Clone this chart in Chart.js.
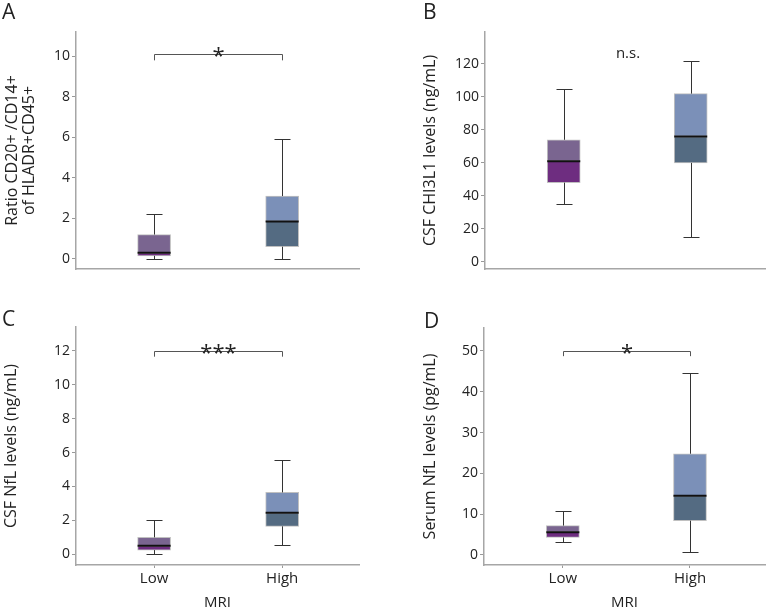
<!DOCTYPE html>
<html>
<head>
<meta charset="utf-8">
<script src="https://cdn.jsdelivr.net/npm/chart.js@4.4.0/dist/chart.umd.min.js"></script>
<style>
    body { margin: 0; background: #fff; width: 771px; height: 610px; position: relative; overflow: hidden; }
    .panel { position: absolute; }
</style>
</head>
<body>
<div class="panel" style="left:0; top:0;"><canvas id="chartA" width="385" height="290"></canvas></div>
<div class="panel" style="left:385px; top:0;"><canvas id="chartB" width="386" height="290"></canvas></div>
<div class="panel" style="left:0; top:290px;"><canvas id="chartC" width="385" height="320"></canvas></div>
<div class="panel" style="left:385px; top:290px;"><canvas id="chartD" width="386" height="320"></canvas></div>

<script>
// Grupos MRI
const categories = ['Low', 'High'];

// A: Ratio CD20+/CD14+
const aMin = [0.0, 0.0];
const aQ1 = [0.15, 0.6];
const aMedian = [0.3, 1.85];
const aQ3 = [1.2, 3.1];
const aMax = [2.2, 5.9];
const aTicks = [0, 2, 4, 6, 8, 10];

// B: CSF CHI3L1
const bMin = [35, 15];
const bQ1 = [48, 60];
const bMedian = [61, 76];
const bQ3 = [74, 102];
const bMax = [105, 122];
const bTicks = [0, 20, 40, 60, 80, 100, 120];

// C: CSF NfL
const cMin = [0.0, 0.55];
const cQ1 = [0.25, 1.65];
const cMedian = [0.5, 2.45];
const cQ3 = [1.0, 3.65];
const cMax = [2.0, 5.55];
const cTicks = [0, 2, 4, 6, 8, 10, 12];

// D: Serum NfL
const dMin = [3.2, 0.7];
const dQ1 = [4.3, 8.4];
const dMedian = [5.6, 14.5];
const dQ3 = [7.2, 24.8];
const dMax = [10.7, 44.7];
const dTicks = [0, 10, 20, 30, 40, 50];

// significancia: [texto, nivel, fin del corchete]
const aSig = ['*', 10.1, 9.8];
const bSig = ['n.s.', 124.3, null];
const cSig = ['***', 12.0, 11.65];
const dSig = ['*', 50, 48.7];

const lowerColors = ['#6e2d80', '#546b82'];
const upperColors = ['#7a6590', '#7b90b8'];

Chart.defaults.font.family = "'Open Sans', sans-serif";
Chart.defaults.color = '#222';

const boxExtras = {
    id: 'boxExtras',
    afterDatasetsDraw(chart, args, opts) {
        const { ctx, scales: { x, y } } = chart;
        const meta = chart.getDatasetMeta(0);
        ctx.save();
        // bigotes
        ctx.strokeStyle = '#333';
        ctx.lineWidth = 1;
        opts.q1.forEach((q, i) => {
            const cx = Math.round(meta.data[i].x) + 0.5;
            const cap = 8;
            const yMin = Math.round(y.getPixelForValue(opts.min[i])) + 0.5;
            const yMax = Math.round(y.getPixelForValue(opts.max[i])) + 0.5;
            ctx.beginPath();
            ctx.moveTo(cx, y.getPixelForValue(opts.q3[i]));
            ctx.lineTo(cx, yMax);
            ctx.moveTo(cx - cap, yMax);
            ctx.lineTo(cx + cap, yMax);
            ctx.moveTo(cx, y.getPixelForValue(q));
            ctx.lineTo(cx, yMin);
            ctx.moveTo(cx - cap, yMin);
            ctx.lineTo(cx + cap, yMin);
            ctx.stroke();
        });
        // mediana
        ctx.strokeStyle = '#111';
        ctx.lineWidth = 2;
        opts.med.forEach((m, i) => {
            const bar = meta.data[i];
            const ym = y.getPixelForValue(m);
            ctx.beginPath();
            ctx.moveTo(bar.x - bar.width / 2, ym);
            ctx.lineTo(bar.x + bar.width / 2, ym);
            ctx.stroke();
        });
        // corchete de significancia
        const [label, level, drop] = opts.sig;
        const x0 = Math.round(x.getPixelForValue(0)) + 0.5;
        const x1 = Math.round(x.getPixelForValue(1)) + 0.5;
        const yl = Math.round(y.getPixelForValue(level)) + 0.5;
        ctx.fillStyle = '#222';
        ctx.textAlign = 'center';
        if (drop !== null) {
            const yd = y.getPixelForValue(drop);
            ctx.strokeStyle = '#555';
            ctx.lineWidth = 1;
            ctx.beginPath();
            ctx.moveTo(x0, yd);
            ctx.lineTo(x0, yl);
            ctx.lineTo(x1, yl);
            ctx.lineTo(x1, yd);
            ctx.stroke();
            ctx.font = "22px 'Open Sans'";
            ctx.fillText(label, (x0 + x1) / 2, yl + 8);
        } else {
            ctx.font = "15px 'Open Sans'";
            ctx.fillText(label, (x0 + x1) / 2, yl);
        }
        // letra del panel
        ctx.font = "21px 'Open Sans'";
        ctx.textAlign = 'left';
        ctx.fillText(opts.letter, opts.letterX, opts.letterY);
        ctx.restore();
    }
};

function makeChart(id, p) {
    const boxData = (lo, hi) => categories.map((c, i) => ({ x: i, y: [lo[i], hi[i]] }));
    new Chart(document.getElementById(id), {
        type: 'bar',
        data: {
            datasets: [
                {
                    data: boxData(p.q1, p.med),
                    backgroundColor: lowerColors,
                    borderColor: 'rgba(150,150,150,0.6)',
                    borderWidth: 1,
                    borderSkipped: false,
                    barThickness: 33,
                    grouped: false
                },
                {
                    data: boxData(p.med, p.q3),
                    backgroundColor: upperColors,
                    borderColor: 'rgba(150,150,150,0.6)',
                    borderWidth: 1,
                    borderSkipped: false,
                    barThickness: 33,
                    grouped: false
                }
            ]
        },
        options: {
            responsive: false,
            animation: false,
            devicePixelRatio: 1,
            layout: { padding: { left: 0, top: p.top, right: p.right, bottom: 0 } },
            plugins: {
                legend: { display: false },
                tooltip: { enabled: false },
                boxExtras: {
                    min: p.min, q1: p.q1, med: p.med, q3: p.q3, max: p.max,
                    sig: p.sig, letter: p.letter, letterX: p.letterX, letterY: p.letterY
                }
            },
            scales: {
                x: {
                    type: 'linear',
                    min: p.xMin,
                    max: p.xMax,
                    offset: false,
                    afterBuildTicks: s => { s.ticks = categories.map((c, i) => ({ value: i })); },
                    afterFit: s => { s.height = p.xHeight; },
                    ticks: {
                        display: p.showX,
                        callback: v => categories[v],
                        font: { size: 15 },
                        color: '#222',
                        padding: 2,
                        autoSkip: false,
                        maxRotation: 0
                    },
                    grid: { display: p.showX, drawOnChartArea: false, tickLength: 3, color: '#999', offset: false },
                    border: { display: true, color: '#a6a6a6', width: 1.5 },
                    title: { display: p.showX, text: 'MRI', font: { size: 15, lineHeight: 1 }, color: '#222', padding: { top: 0, bottom: 0 } }
                },
                y: {
                    min: p.yMin,
                    max: p.yMax,
                    afterBuildTicks: s => { s.ticks = p.ticks.map(v => ({ value: v })); },
                    afterFit: s => { s.width = p.yWidth; },
                    ticks: { font: { size: 14 }, color: '#222', padding: 2 },
                    grid: { drawOnChartArea: false, tickLength: 4, color: '#999' },
                    border: { display: true, color: '#a6a6a6', width: 1.5 },
                    title: {
                        display: true, text: p.title,
                        font: { size: 16, lineHeight: 1.1 }, color: '#222',
                        padding: { top: p.titlePad, bottom: 0 }
                    }
                }
            }
        },
        plugins: [boxExtras]
    });
}

makeChart('chartA', {
    min: aMin, q1: aQ1, med: aMedian, q3: aQ3, max: aMax, ticks: aTicks, sig: aSig,
    title: ['Ratio CD20+ /CD14+', 'of HLADR+CD45+'], titlePad: 3.2,
    yMin: -0.5, yMax: 11.2, xMin: -0.61, xMax: 1.6,
    top: 32, right: 26, yWidth: 76, xHeight: 21, showX: false,
    letter: 'A', letterX: 2, letterY: 19
});
makeChart('chartB', {
    min: bMin, q1: bQ1, med: bMedian, q3: bQ3, max: bMax, ticks: bTicks, sig: bSig,
    title: 'CSF CHI3L1 levels (ng/mL)', titlePad: 36.2,
    yMin: -4.4, yMax: 139.4, xMin: -0.62, xMax: 1.585,
    top: 32, right: 6, yWidth: 100, xHeight: 21, showX: false,
    letter: 'B', letterX: 38, letterY: 19
});
makeChart('chartC', {
    min: cMin, q1: cQ1, med: cMedian, q3: cQ3, max: cMax, ticks: cTicks, sig: cSig,
    title: 'CSF NfL levels (ng/mL)', titlePad: 2.2,
    yMin: -0.63, yMax: 13.4, xMin: -0.61, xMax: 1.6,
    top: 37, right: 26, yWidth: 76, xHeight: 45, showX: true,
    letter: 'C', letterX: 2, letterY: 36
});
makeChart('chartD', {
    min: dMin, q1: dQ1, med: dMedian, q3: dQ3, max: dMax, ticks: dTicks, sig: dSig,
    title: 'Serum NfL levels (pg/mL)', titlePad: 36.2,
    yMin: -2.45, yMax: 55.6, xMin: -0.62, xMax: 1.59,
    top: 38, right: 6, yWidth: 99, xHeight: 45, showX: true,
    letter: 'D', letterX: 39, letterY: 38
});
</script>
</body>
</html>
